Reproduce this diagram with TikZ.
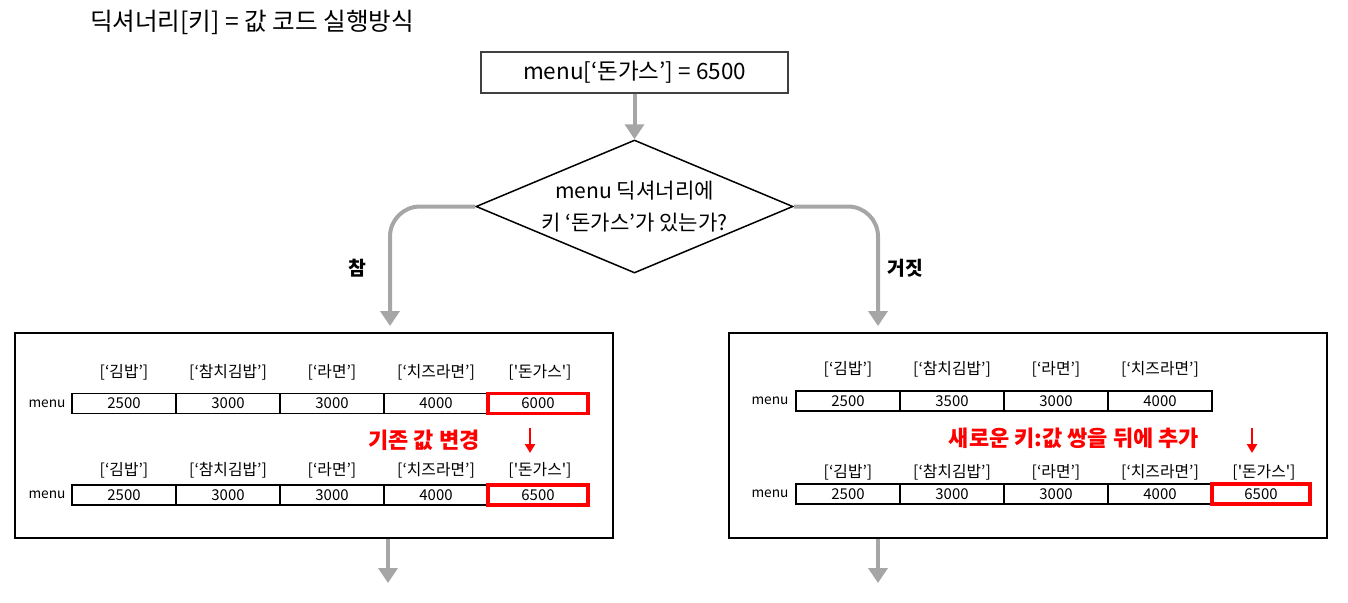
\documentclass[tikz,border=0pt]{standalone}
\usepackage{fontspec}
\setmainfont{Noto Sans CJK KR}
\usetikzlibrary{arrows.meta, shapes.geometric}
\definecolor{flowgray}{HTML}{A6A6A6}
\definecolor{hotred}{HTML}{FF0000}
\definecolor{boxgray}{HTML}{404040}

\begin{document}
\begin{tikzpicture}[x=0.2mm, y=-0.2mm,
    flow/.style={draw=flowgray, line width=0.8mm, -{Triangle[width=3.8mm, length=3mm]}},
    redarrow/.style={draw=hotred, line width=0.5mm, -{Triangle[width=2mm, length=1.8mm]}},
    panel/.style={draw=black, line width=0.4mm, minimum width=119.6mm, minimum height=41mm, inner sep=0},
    cell/.style={draw=black, line width=0.28mm, minimum width=20.8mm, minimum height=4mm, inner sep=0, font=\fontsize{8.5}{9}\selectfont},
    redcell/.style={cell, draw=hotred, line width=0.7mm, minimum width=20mm},
    keylabel/.style={inner sep=0, font=\fontsize{9}{10}\selectfont},
    rowlabel/.style={inner sep=0, font=\fontsize{7.8}{9}\selectfont},
    note/.style={inner sep=0, text=hotred, font=\fontsize{12.5}{14}\selectfont\bfseries},
    branch/.style={inner sep=0, font=\fontsize{11}{12}\selectfont\bfseries}]
  \useasboundingbox (0,0) rectangle (1348,602);

  % title and question
  \node[inner sep=0, font=\fontsize{14}{16}\selectfont] (title) at (252,22) {딕셔너리[키] = 값 코드 실행방식};
  \node[draw=boxgray, line width=0.3mm, minimum width=61.4mm, minimum height=8.2mm,
        font=\fontsize{12.8}{14}\selectfont] (start) at (634.5,72.5) {menu[‘돈가스’] = 6500};
  \node[draw=black, line width=0.3mm, shape=diamond, aspect=2.38, inner sep=0,
        minimum width=63.4mm, minimum height=26.6mm, align=center,
        font=\fontsize{12}{18}\selectfont] (dec) at (634.5,206.5)
        {menu 딕셔너리에\\키 ‘돈가스’가 있는가?};
  \draw[flow] (start) -- (dec);

  % branches
  \coordinate (Tin) at (390,326);
  \coordinate (Fin) at (878,326);
  \draw[flow, rounded corners=6mm] (dec.west) -| (Tin);
  \draw[flow, rounded corners=6mm] (dec.east) -| (Fin);
  \node[branch] (true) at (357,268) {참};
  \node[branch] (false) at (905,268) {거짓};

  % left panel: key exists
  \node[panel] (lp) at (314,435.5) {};
  \foreach \k [count=\i] in {{[‘김밥’]},{[‘참치김밥’]},{[‘라면’]},{[‘치즈라면’]},{[\textquotesingle 돈가스\textquotesingle]}} {
    \node[keylabel] (Lka\i) at ({124+104*(\i-1)},372) {\k};
    \node[keylabel] (Lkb\i) at ({124+104*(\i-1)},470) {\k};
  }
  \node[rowlabel] (Lma) at (47,403.5) {menu};
  \node[rowlabel] (Lmb) at (47,495) {menu};
  \foreach \v [count=\i] in {2500,3000,3000,4000}
    \node[cell] (La\i) at ({124+104*(\i-1)},403.5) {\v};
  \foreach \v [count=\i] in {2500,3000,3000,4000}
    \node[cell] (Lb\i) at ({124+104*(\i-1)},495) {\v};
  \node[redcell] (La5) at (538,403.5) {6000};
  \node[redcell] (Lb5) at (538,495) {6500};
  \node[note] (Lnote) at (424,440) {기존 값 변경};
  \coordinate (Lfrom) at (530,428);
  \coordinate (Lto) at (530,453);
  \draw[redarrow] (Lfrom) -- (Lto);

  % right panel: key is new
  \node[panel] (rp) at (1028,435.5) {};
  \foreach \k [count=\i] in {{[‘김밥’]},{[‘참치김밥’]},{[‘라면’]},{[‘치즈라면’]}}
    \node[keylabel] (Rka\i) at ({848+104*(\i-1)},369) {\k};
  \foreach \k [count=\i] in {{[‘김밥’]},{[‘참치김밥’]},{[‘라면’]},{[‘치즈라면’]},{[\textquotesingle 돈가스\textquotesingle]}}
    \node[keylabel] (Rkb\i) at ({848+104*(\i-1)},472) {\k};
  \node[rowlabel] (Rma) at (770,401) {menu};
  \node[rowlabel] (Rmb) at (770,494) {menu};
  \foreach \v [count=\i] in {2500,3500,3000,4000}
    \node[cell] (Ra\i) at ({848+104*(\i-1)},401) {\v};
  \foreach \v [count=\i] in {2500,3000,3000,4000}
    \node[cell] (Rb\i) at ({848+104*(\i-1)},494) {\v};
  \node[redcell, minimum width=19.6mm] (Rb5) at (1261,494) {6500};
  \node[note] (Rnote) at (1074,438) {새로운 키:값 쌍을 뒤에 추가};
  \coordinate (Rfrom) at (1252,428);
  \coordinate (Rto) at (1252,453);
  \draw[redarrow] (Rfrom) -- (Rto);

  % outgoing arrows
  \coordinate (Tout) at (388,583);
  \coordinate (Fout) at (878,583);
  \draw[flow] (lp.south -| Tout) -- (Tout);
  \draw[flow] (rp.south -| Fout) -- (Fout);
\end{tikzpicture}
\end{document}
